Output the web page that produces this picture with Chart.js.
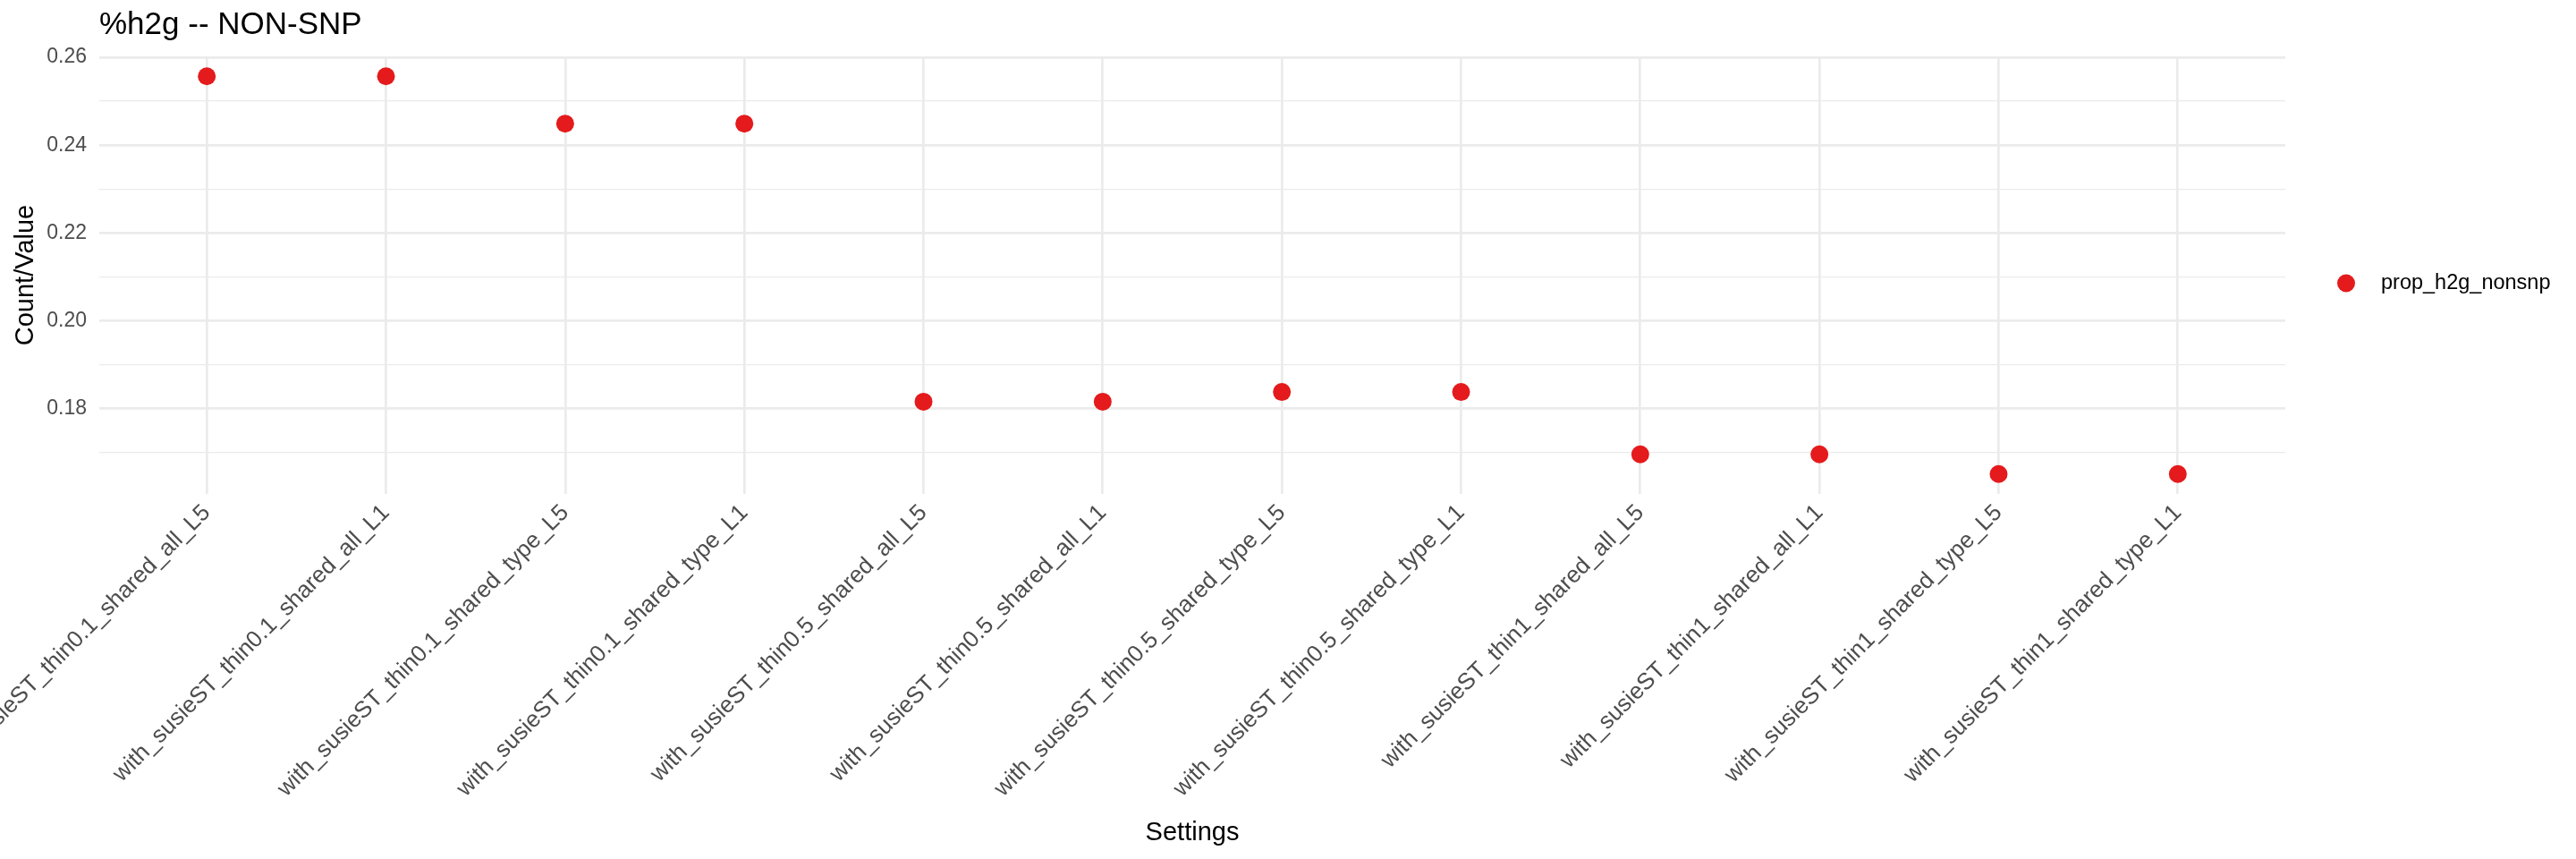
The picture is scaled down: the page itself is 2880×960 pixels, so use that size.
<!DOCTYPE html>
<html>
<head>
<meta charset="utf-8">
<script src="https://cdn.jsdelivr.net/npm/chart.js@4"></script>
<style>
  html, body { margin: 0; padding: 0; background: #fff; }
  #wrap { width: 2880px; height: 960px; }
</style>
</head>
<body>
<div id="wrap"><canvas id="chart"></canvas></div>
<script>
// ========== DATA ==========
const settings = [
  "with_susieST_thin0.1_shared_all_L5",
  "with_susieST_thin0.1_shared_all_L1",
  "with_susieST_thin0.1_shared_type_L5",
  "with_susieST_thin0.1_shared_type_L1",
  "with_susieST_thin0.5_shared_all_L5",
  "with_susieST_thin0.5_shared_all_L1",
  "with_susieST_thin0.5_shared_type_L5",
  "with_susieST_thin0.5_shared_type_L1",
  "with_susieST_thin1_shared_all_L5",
  "with_susieST_thin1_shared_all_L1",
  "with_susieST_thin1_shared_type_L5",
  "with_susieST_thin1_shared_type_L1",
];
const propH2gNonsnp = [
  0.2557, 0.2557, 0.2449, 0.2449,
  0.1815, 0.1815, 0.1837, 0.1837,
  0.1695, 0.1695, 0.1650, 0.1650,
];
const seriesName = "prop_h2g_nonsnp";
const yTickLabels = ["0.18", "0.20", "0.22", "0.24", "0.26"];

// ── ggplot-like range: 5% expansion on y, 0.6 units on discrete x ──────────
const yMinData = Math.min(...propH2gNonsnp);
const yMaxData = Math.max(...propH2gNonsnp);
const ySpan = yMaxData - yMinData;

const GRID = "#EBEBEB";
const AXIS_TEXT = "#4D4D4D";
const POINT = "#E41A1C";
const FONT = "'Liberation Sans', Arial, Helvetica, sans-serif";

const isMajor = (v) => Math.round(v * 100) % 2 === 0;

// legend drawn beside the panel, vertically centred on it
const sideLegend = {
  id: "sideLegend",
  afterDraw(chart) {
    const { ctx, chartArea } = chart;
    const cy = (chartArea.top + chartArea.bottom) / 2 + 9;
    const cx = chartArea.right + 68;
    ctx.save();
    ctx.fillStyle = POINT;
    ctx.beginPath();
    ctx.arc(cx, cy, 10, 0, Math.PI * 2);
    ctx.fill();
    ctx.fillStyle = "#000";
    ctx.font = "23.5px " + FONT;
    ctx.textBaseline = "middle";
    ctx.textAlign = "left";
    ctx.fillText(seriesName, cx + 39, cy);
    ctx.restore();
  },
};

const ctx = document.getElementById("chart").getContext("2d");
new Chart(ctx, {
  type: "scatter",
  data: {
    datasets: [
      {
        label: seriesName,
        data: propH2gNonsnp.map((v, i) => ({ x: i, y: v })),
        backgroundColor: POINT,
        borderColor: POINT,
        borderWidth: 0,
        pointRadius: 10,
        pointHoverRadius: 10,
      },
    ],
  },
  options: {
    responsive: true,
    maintainAspectRatio: false,
    animation: false,
    layout: { padding: { left: 0, right: 325, top: 0, bottom: 0 } },
    plugins: {
      legend: { display: false },
      tooltip: { enabled: false },
      title: {
        display: true,
        text: "%h2g -- NON-SNP",
        align: "start",
        fullSize: false,
        color: "#000",
        font: { family: FONT, size: 35, weight: "normal", lineHeight: 1.2 },
        padding: { top: 7, bottom: 14 },
      },
    },
    scales: {
      x: {
        type: "linear",
        min: -0.6,
        max: settings.length - 1 + 0.6,
        border: { display: false },
        grid: { color: GRID, lineWidth: 2.7, drawTicks: false },
        ticks: {
          stepSize: 1,
          includeBounds: false,
          autoSkip: false,
          minRotation: 45,
          maxRotation: 45,
          padding: 6,
          color: AXIS_TEXT,
          font: { family: FONT, size: 26 },
          callback: (v) => settings[Math.round(v)] ?? "",
        },
        title: {
          display: true,
          text: "Settings",
          color: "#000",
          font: { family: FONT, size: 29 },
          padding: { top: 0, bottom: 12 },
        },
        afterFit(scale) {
          scale.height = 408;
          scale.paddingLeft = 0;
          scale.paddingRight = 0;
        },
      },
      y: {
        min: yMinData - 0.05 * ySpan,
        max: yMaxData + 0.05 * ySpan,
        border: { display: false },
        grid: {
          color: GRID,
          drawTicks: false,
          lineWidth: (c) => (isMajor(c.tick.value) ? 2.7 : 1.35),
        },
        ticks: {
          stepSize: 0.01,
          includeBounds: false,
          padding: 14,
          color: AXIS_TEXT,
          font: { family: FONT, size: 23 },
          callback: (v) => {
            const s = v.toFixed(2);
            return isMajor(v) && yTickLabels.includes(s) ? s : "";
          },
        },
        title: {
          display: true,
          text: "Count/Value",
          color: "#000",
          font: { family: FONT, size: 29 },
          padding: { top: 12, bottom: 0 },
        },
        afterFit(scale) {
          scale.width = 111;
        },
      },
    },
  },
  plugins: [sideLegend],
});
</script>
</body>
</html>
